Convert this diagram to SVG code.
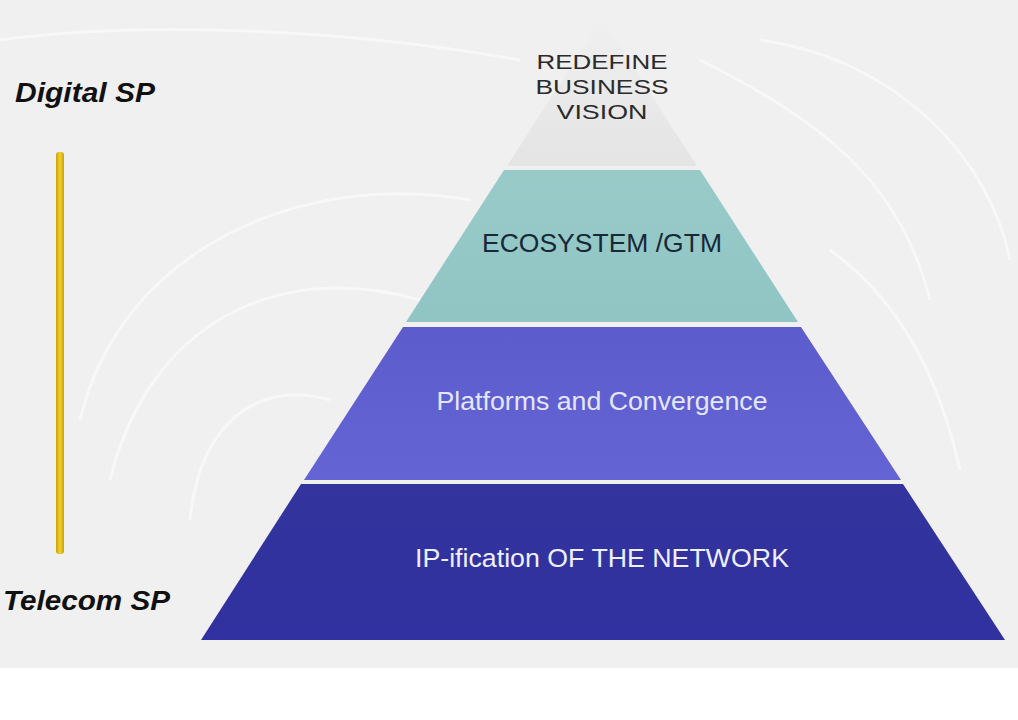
<svg xmlns="http://www.w3.org/2000/svg" width="1018" height="720" viewBox="0 0 1018 720">
<defs>
<style>
.lbl{font-family:"Liberation Sans",Arial,sans-serif;font-weight:bold;font-style:italic;font-size:27px;fill:#111}
.pt{font-family:"Liberation Sans",Arial,sans-serif;font-size:25px;text-anchor:middle}
.vt{font-family:"Liberation Sans",Arial,sans-serif;font-size:21px;text-anchor:middle;fill:#2b2b2b}
.swirl{fill:none;stroke:#ffffff;stroke-width:3;opacity:0.5}
</style>
<linearGradient id="gTop" x1="0" y1="0" x2="0" y2="1">
<stop offset="0" stop-color="#f0f0f0"/><stop offset="1" stop-color="#e4e4e4"/>
</linearGradient>
<linearGradient id="gTeal" x1="0" y1="0" x2="0" y2="1">
<stop offset="0" stop-color="#98cbc8"/><stop offset="1" stop-color="#90c5c4"/>
</linearGradient>
<linearGradient id="gPurple" x1="0" y1="0" x2="0" y2="1">
<stop offset="0" stop-color="#5c5ccc"/><stop offset="1" stop-color="#6464d4"/>
</linearGradient>
<linearGradient id="gBlue" x1="0" y1="0" x2="0" y2="1">
<stop offset="0" stop-color="#34349e"/><stop offset="1" stop-color="#3030a0"/>
</linearGradient>
<linearGradient id="gBar" x1="0" y1="0" x2="1" y2="0">
<stop offset="0" stop-color="#c9a10a"/><stop offset="0.5" stop-color="#f2d22a"/><stop offset="1" stop-color="#c9a10a"/>
</linearGradient>
</defs>
<rect x="0" y="0" width="1018" height="720" fill="#f0f0f0"/>
<rect x="0" y="668" width="1018" height="52" fill="#ffffff"/>
<g id="background-swirls">
<path class="swirl" d="M80 420 C 120 250, 300 170, 470 200"/>
<path class="swirl" d="M110 480 C 150 320, 280 260, 420 300"/>
<path class="swirl" d="M190 520 C 200 420, 260 380, 330 400"/>
<path class="swirl" d="M700 60 C 820 120, 900 180, 930 300"/>
<path class="swirl" d="M760 40 C 900 60, 990 160, 1010 260"/>
<path class="swirl" d="M830 250 C 900 300, 940 380, 960 470"/>
<path class="swirl" d="M0 40 C 150 20, 350 30, 520 60"/>
</g>
<g id="scale-bar">
<rect x="56" y="152" width="8" height="402" rx="3" fill="url(#gBar)"/>
</g>
<g id="label-digital">
<text class="lbl" x="15" y="102" textLength="140" lengthAdjust="spacingAndGlyphs">Digital SP</text>
</g>
<g id="label-telecom">
<text class="lbl" x="3" y="610" textLength="167" lengthAdjust="spacingAndGlyphs">Telecom SP</text>
</g>
<g id="layer-vision">
<polygon points="602,18 697,166 507,166" fill="url(#gTop)"/>
<text class="vt" x="602" y="69" textLength="131" lengthAdjust="spacingAndGlyphs">REDEFINE</text>
<text class="vt" x="602" y="94" textLength="133" lengthAdjust="spacingAndGlyphs">BUSINESS</text>
<text class="vt" x="602" y="119" textLength="91" lengthAdjust="spacingAndGlyphs">VISION</text>
</g>
<g id="layer-ecosystem">
<polygon points="504,170 700,170 798,322 406,322" fill="url(#gTeal)"/>
<text class="pt" x="602" y="252" fill="#182838" textLength="240" lengthAdjust="spacingAndGlyphs">ECOSYSTEM /GTM</text>
</g>
<g id="layer-platforms">
<polygon points="403,327 801,327 901,480 304,480" fill="url(#gPurple)"/>
<text class="pt" x="602" y="410" fill="#e4e6ff" textLength="331" lengthAdjust="spacingAndGlyphs">Platforms and Convergence</text>
</g>
<g id="layer-network">
<polygon points="301,484 903,484 1005,640 201,640" fill="url(#gBlue)"/>
<text class="pt" x="602" y="567" fill="#eef0ff" textLength="374" lengthAdjust="spacingAndGlyphs">IP-ification OF THE NETWORK</text>
</g>
</svg>
